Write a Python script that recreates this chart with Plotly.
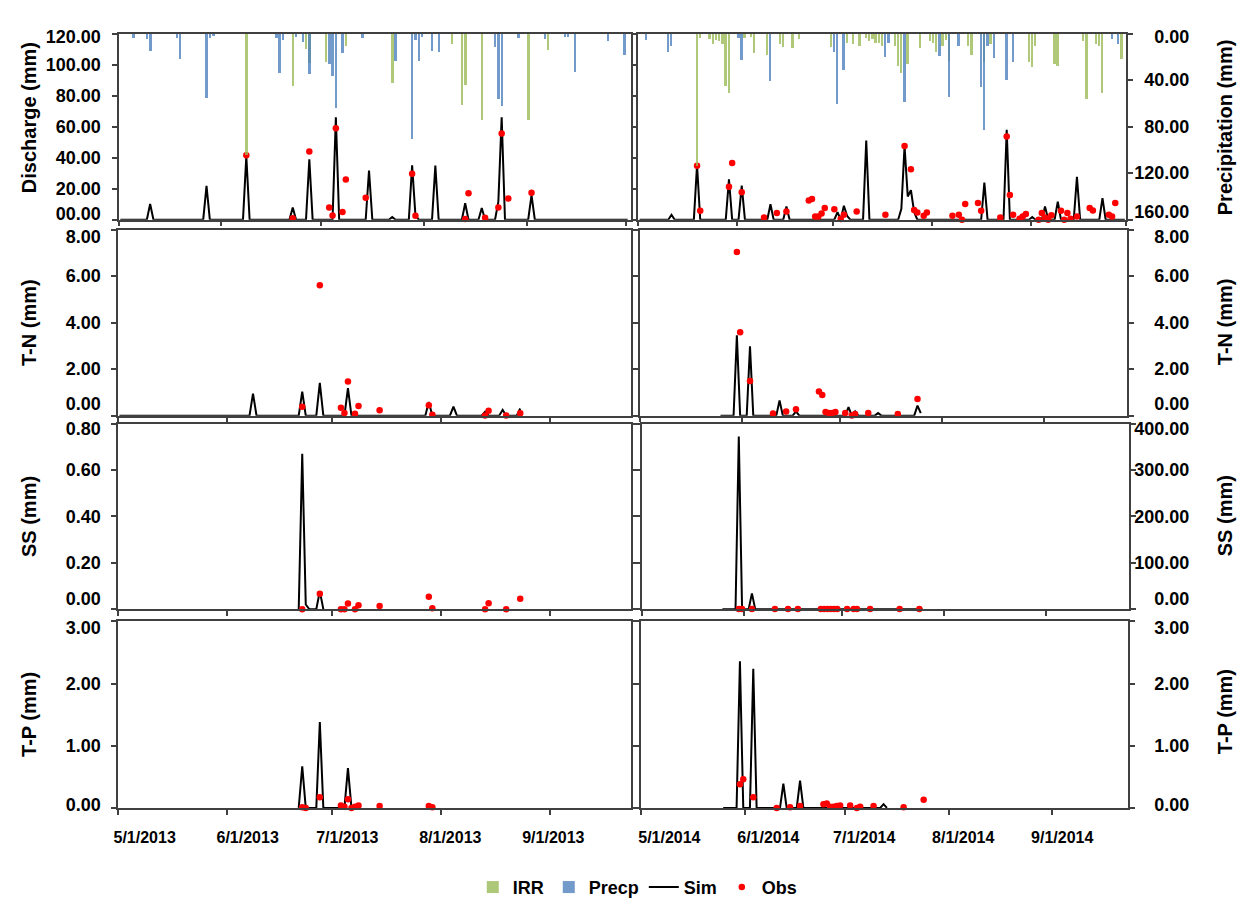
import pandas as pd
import plotly.graph_objects as go

W, H = 1259, 917

# ======================= DATA =======================
# ---------- 2013 season ----------
irr13_dates = ["2013-06-08", "2013-06-22", "2013-06-26", "2013-06-27", "2013-07-02", "2013-07-08",
               "2013-07-22", "2013-08-09", "2013-08-12", "2013-08-13", "2013-08-18", "2013-09-01",
               "2013-09-07"]
irr13_vals = [104, 45, 13, 25, 24, 10.7, 41.7, 8.7, 61, 43.7, 73.5, 74, 13.5]

prc13_dates = ["2013-05-05", "2013-05-09", "2013-05-10", "2013-05-18", "2013-05-19", "2013-05-27",
               "2013-05-28", "2013-05-29", "2013-06-17", "2013-06-18", "2013-06-19", "2013-06-23",
               "2013-06-25", "2013-06-27", "2013-07-03", "2013-07-04", "2013-07-05", "2013-07-07",
               "2013-07-13", "2013-07-23", "2013-07-28", "2013-07-29", "2013-07-30", "2013-07-31",
               "2013-08-03", "2013-08-05", "2013-08-22", "2013-08-23", "2013-08-24", "2013-08-29",
               "2013-09-06", "2013-09-12", "2013-09-13", "2013-09-15", "2013-09-25", "2013-09-30"]
prc13_vals = [3.7, 4.5, 14.4, 3.7, 21.4, 55, 3.7, 1.7, 3.7, 33.8, 5, 2.8, 6.5, 34.6, 25.6, 36, 64,
              16.3, 3.7, 23.4, 90, 5, 23.4, 2.8, 15, 15.8, 11.3, 55.8, 62, 3.7, 4.5, 2.3, 3, 32.4,
              6, 18.3]

q13_span = ("2013-05-01", "2013-10-01")
q13_sim_dates = ["2013-05-10", "2013-05-19", "2013-05-27", "2013-06-08", "2013-06-22", "2013-06-27",
                 "2013-07-05", "2013-07-15", "2013-07-22", "2013-07-28", "2013-07-29", "2013-08-04",
                 "2013-08-13", "2013-08-18", "2013-08-23", "2013-08-24", "2013-09-02"]
q13_sim_vals = [10.1, 0.4, 21.8, 41.0, 7.8, 39.0, 66.0, 31.7, 1.7, 35.0, 2.7, 34.9, 10.6, 7.6, 11.6,
                66.0, 15.8]
q13_obs_dates = ["2013-06-08", "2013-06-22", "2013-06-27", "2013-07-03", "2013-07-04", "2013-07-05",
                 "2013-07-07", "2013-07-08", "2013-07-14", "2013-07-28", "2013-07-29", "2013-08-13",
                 "2013-08-14", "2013-08-19", "2013-08-23", "2013-08-24", "2013-08-26", "2013-09-02"]
q13_obs_vals = [41.6, 1.0, 44.0, 7.8, 2.7, 59.0, 4.9, 26.0, 14.2, 29.6, 2.5, 0.4, 17.0, 1.3, 7.8,
                55.6, 13.7, 17.3]

tn13_span = ("2013-05-01", "2013-08-23")
tn13_sim_dates = ["2013-06-08", "2013-06-22", "2013-06-27", "2013-07-05", "2013-07-28", "2013-08-04",
                  "2013-08-13", "2013-08-18", "2013-08-23"]
tn13_sim_vals = [0.95, 1.03, 1.41, 1.18, 0.59, 0.39, 0.17, 0.25, 0.31]
tn13_obs_dates = ["2013-06-22", "2013-06-27", "2013-07-03", "2013-07-04", "2013-07-05", "2013-07-07",
                  "2013-07-08", "2013-07-14", "2013-07-28", "2013-07-29", "2013-08-13", "2013-08-14",
                  "2013-08-19", "2013-08-23"]
tn13_obs_vals = [0.38, 5.61, 0.34, 0.11, 1.47, 0.08, 0.42, 0.23, 0.45, 0.04, 0.01, 0.21, 0.01, 0.10]

ss13_span = ("2013-06-21", "2013-06-28")
ss13_sim_dates = ["2013-06-22", "2013-06-23", "2013-06-27"]
ss13_sim_vals = [0.67, 0.02, 0.077]
ss13_obs_dates = tn13_obs_dates
ss13_obs_vals = [0.0, 0.066, 0.0, 0.0, 0.024, 0.0, 0.017, 0.014, 0.054, 0.004, 0.0, 0.025, 0.0, 0.045]

tp13_span = ("2013-06-21", "2013-07-06")
tp13_sim_dates = ["2013-06-22", "2013-06-27", "2013-07-05"]
tp13_sim_vals = [0.67, 1.38, 0.64]
tp13_obs_dates = ["2013-06-22", "2013-06-23", "2013-06-27", "2013-07-03", "2013-07-04", "2013-07-05",
                  "2013-07-06", "2013-07-07", "2013-07-08", "2013-07-14", "2013-07-28", "2013-07-29"]
tp13_obs_vals = [0.01, 0.0, 0.17, 0.04, 0.02, 0.14, 0.0, 0.02, 0.04, 0.03, 0.03, 0.01]

# ---------- 2014 season ----------
irr14_dates = ["2014-05-19", "2014-05-20", "2014-05-23", "2014-05-24", "2014-05-25", "2014-05-26",
               "2014-05-27", "2014-05-28", "2014-05-29", "2014-06-03", "2014-06-05", "2014-06-06",
               "2014-06-10", "2014-06-14", "2014-06-15", "2014-06-18", "2014-06-20", "2014-06-30",
               "2014-07-05", "2014-07-07", "2014-07-09", "2014-07-11", "2014-07-12", "2014-07-13",
               "2014-07-14", "2014-07-15", "2014-07-16", "2014-07-20", "2014-07-21", "2014-07-22",
               "2014-07-24", "2014-07-28", "2014-07-31", "2014-08-01", "2014-08-02", "2014-08-04",
               "2014-08-05", "2014-08-06", "2014-08-12", "2014-08-13", "2014-08-17", "2014-08-19",
               "2014-08-31", "2014-09-01", "2014-09-02", "2014-09-08", "2014-09-09", "2014-09-17",
               "2014-09-18", "2014-09-21", "2014-09-22", "2014-09-23", "2014-09-29"]
irr14_vals = [113.8, 3.1, 4.5, 8.2, 5.4, 5.9, 8.2, 45, 50.7, 3.1, 2.5, 16.7, 17.8, 8.8, 11, 12.2,
              4.5, 11, 7.4, 8.8, 10.2, 3.1, 5.9, 4.5, 7.4, 7.4, 10.2, 10.2, 27.2, 33.7, 25.8, 12.2,
              5.9, 7.4, 15.8, 10.2, 5.4, 22.9, 10.2, 17.8, 24.3, 8.8, 24.3, 28, 10.2, 25.8, 27.2,
              5.9, 55.5, 8.8, 10.2, 50.7, 21.5]

prc14_dates = ["2014-05-03", "2014-05-10", "2014-05-11", "2014-06-01", "2014-06-02", "2014-06-11",
               "2014-07-01", "2014-07-02", "2014-07-04", "2014-07-17", "2014-07-18", "2014-07-23",
               "2014-08-03", "2014-08-06", "2014-08-09", "2014-08-16", "2014-08-17", "2014-08-18",
               "2014-08-20", "2014-08-24", "2014-08-26", "2014-09-26", "2014-09-28"]
prc14_vals = [5.4, 15.8, 10.2, 3.1, 22.4, 40.5, 15.8, 60.3, 30.6, 20.1, 7.4, 58.3, 18.7, 54.1,
              10.2, 45.6, 82.3, 10.2, 20.7, 39.3, 24.3, 4.5, 8.8]

q14_span = ("2014-05-01", "2014-09-30")
q14_sim_dates = ["2014-05-11", "2014-05-19", "2014-05-29", "2014-06-02", "2014-06-11", "2014-06-16",
                 "2014-07-02", "2014-07-04", "2014-07-05", "2014-07-11", "2014-07-22", "2014-07-23",
                 "2014-07-24", "2014-07-25", "2014-07-26", "2014-08-17", "2014-08-24", "2014-09-01",
                 "2014-09-05", "2014-09-09", "2014-09-15", "2014-09-23"]
q14_sim_vals = [3.2, 35.2, 26, 22, 10, 8.5, 4.9, 9, 2.5, 51, 7, 47.5, 15, 19, 5, 24, 58, 1.7, 8.5,
                11.7, 27.7, 13.9]
q14_obs_dates = ["2014-05-19", "2014-05-20", "2014-05-29", "2014-05-30", "2014-06-02", "2014-06-09",
                 "2014-06-13", "2014-06-16", "2014-06-23", "2014-06-24", "2014-06-25", "2014-06-26",
                 "2014-06-27", "2014-06-28", "2014-07-01", "2014-07-03", "2014-07-04", "2014-07-08",
                 "2014-07-17", "2014-07-23", "2014-07-25", "2014-07-26", "2014-07-27", "2014-07-29",
                 "2014-07-30", "2014-08-07", "2014-08-09", "2014-08-10", "2014-08-11", "2014-08-15",
                 "2014-08-16", "2014-08-22", "2014-08-24", "2014-08-25", "2014-08-26", "2014-08-28",
                 "2014-08-29", "2014-08-30", "2014-09-03", "2014-09-04", "2014-09-05", "2014-09-06",
                 "2014-09-07", "2014-09-10", "2014-09-11", "2014-09-12", "2014-09-13", "2014-09-15",
                 "2014-09-19", "2014-09-20", "2014-09-25", "2014-09-26", "2014-09-27"]
q14_obs_vals = [34.8, 5.8, 21.3, 36.5, 17.7, 1.5, 4.3, 5.3, 12.4, 13.4, 2.1, 2.1, 4.0, 7.5, 6.8,
                0.4, 3.2, 5.3, 3.2, 47.5, 32.6, 6.2, 4.7, 2.6, 4.7, 2.6, 3.2, 0.0, 10.2, 10.7, 5.8,
                1.5, 53.7, 16.0, 3.2, 0.6, 2.1, 3.6, 0.0, 4.3, 1.5, 0.0, 2.8, 5.8, 0.0, 4.3, 0.6,
                2.1, 7.5, 6.0, 3.2, 2.1, 10.7]

wq14_obs_dates = ["2014-05-30", "2014-05-31", "2014-06-03", "2014-06-10", "2014-06-14", "2014-06-17",
                  "2014-06-24", "2014-06-25", "2014-06-26", "2014-06-27", "2014-06-28", "2014-06-29",
                  "2014-07-02", "2014-07-04", "2014-07-05", "2014-07-09", "2014-07-18", "2014-07-24"]

tn14_span = ("2014-05-25", "2014-07-25")
tn14_sim_dates = ["2014-05-30", "2014-06-03", "2014-06-12", "2014-06-17", "2014-07-03", "2014-07-05",
                  "2014-07-12", "2014-07-24", "2014-07-25"]
tn14_sim_vals = [3.45, 2.98, 0.65, 0.18, 0.37, 0.18, 0.11, 0.43, 0.11]
tn14_obs_vals = [7.04, 3.59, 1.49, 0.09, 0.18, 0.28, 1.04, 0.89, 0.16, 0.11, 0.11, 0.16, 0.11,
                 0.01, 0.07, 0.11, 0.07, 0.72]

ss14_span = ("2014-05-25", "2014-07-25")
ss14_sim_dates = ["2014-05-30", "2014-06-03"]
ss14_sim_vals = [372, 34]
ss14_obs_vals = [0.5] * 18

tp14_span = ("2014-05-25", "2014-07-13")
tp14_sim_dates = ["2014-05-30", "2014-06-03", "2014-06-12", "2014-06-17", "2014-07-12"]
tp14_sim_vals = [2.36, 2.24, 0.39, 0.44, 0.06]
tp14_obs_vals = [0.38, 0.46, 0.17, 0.0, 0.01, 0.03, 0.06, 0.07, 0.02, 0.02, 0.03, 0.04, 0.04, 0.0,
                 0.02, 0.03, 0.01, 0.13]

# tick labels
date_ticks13 = ["2013-05-01", "2013-06-01", "2013-07-01", "2013-08-01", "2013-09-01"]
date_labels13 = ["5/1/2013", "6/1/2013", "7/1/2013", "8/1/2013", "9/1/2013"]
date_ticks14 = ["2014-05-01", "2014-06-01", "2014-07-01", "2014-08-01", "2014-09-01"]
date_labels14 = ["5/1/2014", "6/1/2014", "7/1/2014", "8/1/2014", "9/1/2014"]

q_ticks = [0, 20, 40, 60, 80, 100, 120]
q_labels = ["00.00", "20.00", "40.00", "60.00", "80.00", "100.00", "120.00"]
p_ticks = [0, 40, 80, 120, 160]
p_labels = ["0.00", "40.00", "80.00", "120.00", "160.00"]
tn_ticks = [0, 2, 4, 6, 8]
tn_labels = ["0.00", "2.00", "4.00", "6.00", "8.00"]
ss13_ticks = [0, 0.2, 0.4, 0.6, 0.8]
ss13_labels = ["0.00", "0.20", "0.40", "0.60", "0.80"]
ss14_ticks = [0, 100, 200, 300, 400]
ss14_labels = ["0.00", "100.00", "200.00", "300.00", "400.00"]
tp_ticks = [0, 1, 2, 3]
tp_labels = ["0.00", "1.00", "2.00", "3.00"]

# ======================= HELPERS =======================
HALF_DAY = pd.Timedelta(hours=12)


def noon(dates):
    return [pd.Timestamp(d) + HALF_DAY for d in dates]


def daily(span, dates, vals):
    idx = pd.date_range(span[0], span[1], freq="D")
    s = pd.Series(0.0, index=idx)
    for d, v in zip(dates, vals):
        s[pd.Timestamp(d)] = v
    return [t + HALF_DAY for t in s.index], s.values.tolist()


GREEN = "#9BBB59"
BLUE = "#4F81BD"
RED = "#FF0000"
AXC = "#404040"
LW = 1.5
FONT = "Liberation Sans, Arial, sans-serif"
BAR_W = 0.6 * 86400000

fig = go.Figure()


def bars(dates, vals, color, name, xa, ya, legend=False):
    fig.add_trace(go.Bar(x=noon(dates), y=vals, width=BAR_W, name=name, xaxis=xa, yaxis=ya,
                         marker=dict(color=color, line=dict(width=0)), opacity=0.8,
                         showlegend=legend, legendgroup=name, hoverinfo="skip"))


def sim(span, dates, vals, xa, ya, legend=False):
    x, y = daily(span, dates, vals)
    fig.add_trace(go.Scatter(x=x, y=y, mode="lines", name="Sim", xaxis=xa, yaxis=ya,
                             line=dict(color="black", width=2), cliponaxis=False,
                             showlegend=legend, legendgroup="Sim"))


def obs(dates, vals, xa, ya, legend=False):
    fig.add_trace(go.Scatter(x=noon(dates), y=vals, mode="markers", name="Obs", xaxis=xa, yaxis=ya,
                             marker=dict(color=RED, size=6.5, line=dict(width=0)), cliponaxis=False,
                             showlegend=legend, legendgroup="Obs"))


def dummy(xa, ya):
    fig.add_trace(go.Scatter(x=[None], y=[None], xaxis=xa, yaxis=ya, showlegend=False,
                             hoverinfo="skip", mode="markers"))


# ======================= TRACES =======================
# row 1 (discharge on base axis, rain/irrigation on overlay axis)
bars(irr13_dates, irr13_vals, GREEN, "IRR", "x", "y9", True)
bars(prc13_dates, prc13_vals, BLUE, "Precp", "x", "y9", True)
sim(q13_span, q13_sim_dates, q13_sim_vals, "x", "y", True)
obs(q13_obs_dates, q13_obs_vals, "x", "y", True)

bars(irr14_dates, irr14_vals, GREEN, "IRR", "x2", "y10")
bars(prc14_dates, prc14_vals, BLUE, "Precp", "x2", "y10")
sim(q14_span, q14_sim_dates, q14_sim_vals, "x2", "y2")
obs(q14_obs_dates, q14_obs_vals, "x2", "y2")

# row 2 T-N
sim(tn13_span, tn13_sim_dates, tn13_sim_vals, "x3", "y3")
obs(tn13_obs_dates, tn13_obs_vals, "x3", "y3")
sim(tn14_span, tn14_sim_dates, tn14_sim_vals, "x4", "y4")
obs(wq14_obs_dates, tn14_obs_vals, "x4", "y4")

# row 3 SS
sim(ss13_span, ss13_sim_dates, ss13_sim_vals, "x5", "y5")
obs(ss13_obs_dates, ss13_obs_vals, "x5", "y5")
sim(ss14_span, ss14_sim_dates, ss14_sim_vals, "x6", "y6")
obs(wq14_obs_dates, ss14_obs_vals, "x6", "y6")

# row 4 T-P
sim(tp13_span, tp13_sim_dates, tp13_sim_vals, "x7", "y7")
obs(tp13_obs_dates, tp13_obs_vals, "x7", "y7")
sim(tp14_span, tp14_sim_dates, tp14_sim_vals, "x8", "y8")
obs(wq14_obs_dates, tp14_obs_vals, "x8", "y8")

# label-only axes need a (empty) trace to exist
for xa, ya in [("x", "y11"), ("x2", "y12"), ("x3", "y13"), ("x4", "y14"), ("x5", "y15"),
               ("x6", "y16"), ("x7", "y17"), ("x8", "y18"), ("x9", "y7"), ("x10", "y8")]:
    dummy(xa, ya)

# ======================= LAYOUT =======================
def dx(a, b):
    return [a / W, b / W]


def dy(top, bottom):
    return [1 - bottom / H, 1 - top / H]


ROWS = [(27, 216), (226, 415), (423, 611.5), (624, 813.3)]
LEFT = [(115, 629), (114, 629), (114, 629), (114, 629)]
RIGHT = [(636, 1126), (638, 1127), (640, 1129), (639.4, 1128)]
XR_L = [["2013-05-01", "2013-10-02 12:00"], ["2013-05-01", "2013-09-24"],
        ["2013-05-01", "2013-09-24"], ["2013-05-01", "2013-09-24"]]
XR_R = [["2014-05-01", "2014-10-01"], ["2014-05-01", "2014-09-26 10:00"],
        ["2014-05-01", "2014-09-26 12:00"], ["2014-05-01", "2014-09-23 19:00"]]

TF_Y = dict(family=FONT, size=18, color="black", weight="bold")
TF_X = dict(family=FONT, size=16, color="black", weight="bold")


def base_x(dom, anchor, rng):
    return dict(domain=dom, anchor=anchor, type="date", range=rng, tick0=rng[0][:10], dtick="M1",
                ticks="outside", ticklen=5, tickwidth=LW, tickcolor=AXC, showticklabels=False,
                showline=True, linewidth=LW, linecolor=AXC, mirror=True, showgrid=False,
                zeroline=False)


def base_y(dom, anchor, rng, tv, side="left", ticks="outside", mirror="ticks", showline=True):
    return dict(domain=dom, anchor=anchor, range=rng, tickvals=tv, side=side, ticks=ticks,
                ticklen=5, tickwidth=LW, tickcolor=AXC, showticklabels=False, showline=showline,
                linewidth=LW, linecolor=AXC, mirror=mirror, showgrid=False, zeroline=False)


def nudge(tv, rng, h, top_px, bottom_px):
    # move the end labels inward (pixels), as in the original figure
    per_px = (rng[1] - rng[0]) / h
    out = list(tv)
    if rng[0] in tv:
        i = tv.index(rng[0])
        out[i] = tv[i] + bottom_px * per_px
    if rng[1] in tv:
        i = tv.index(rng[1])
        out[i] = tv[i] - top_px * per_px
    return out


def label_y(over, pos, rng, tv, tt, h, top_px, bottom_px):
    return dict(overlaying=over, anchor="free", position=pos, side="left", range=rng,
                tickvals=nudge(tv, rng, h, top_px, bottom_px), ticktext=tt, ticks="",
                showline=False, showgrid=False, zeroline=False, tickfont=TF_Y)


layout = dict(width=W, height=H, margin=dict(l=0, r=0, t=0, b=0), paper_bgcolor="white",
              plot_bgcolor="white", barmode="overlay", bargap=0, showlegend=True,
              legend=dict(orientation="h", x=0.505, xanchor="center", y=1 - 894 / H,
                          yanchor="middle", font=dict(family=FONT, size=18, color="black",
                                                      weight="bold"),
                          bgcolor="rgba(0,0,0,0)", itemwidth=30),
              font=dict(family=FONT))

names_x = ["xaxis", "xaxis2", "xaxis3", "xaxis4", "xaxis5", "xaxis6", "xaxis7", "xaxis8"]
anc_y = ["y", "y2", "y3", "y4", "y5", "y6", "y7", "y8"]

for r in range(4):
    li, ri = 2 * r, 2 * r + 1
    layout[names_x[li]] = base_x(dx(*LEFT[r]), anc_y[li], XR_L[r])
    layout[names_x[ri]] = base_x(dx(*RIGHT[r]), anc_y[ri], XR_R[r])

LPOS = 97 / W
RPOS = 1189 / W
hr = [b - t for t, b in ROWS]

# row 1
layout["yaxis"] = base_y(dy(*ROWS[0]), "x", [0, 120], q_ticks)
layout["yaxis9"] = dict(overlaying="y", anchor="x", side="right", range=[160, 0], showline=False,
                        ticks="", showticklabels=False, showgrid=False, zeroline=False)
layout["yaxis2"] = base_y(dy(*ROWS[0]), "x2", [0, 120], q_ticks, ticks="", mirror=False)
layout["yaxis10"] = dict(overlaying="y2", anchor="x2", side="right", range=[160, 0],
                         tickvals=p_ticks, ticks="outside", ticklen=5, tickwidth=LW, tickcolor=AXC,
                         showticklabels=False, showline=True, linewidth=LW, linecolor=AXC,
                         showgrid=False, zeroline=False)
layout["yaxis11"] = label_y("y", LPOS, [0, 120], q_ticks, q_labels, hr[0], 3, 6)
layout["yaxis12"] = label_y("y2", RPOS, [0, 160], p_ticks, p_labels, hr[0], 8, 3)
layout["yaxis12"]["range"] = [160, 0]

# rows 2-4
layout["yaxis3"] = base_y(dy(*ROWS[1]), "x3", [0, 8], tn_ticks)
layout["yaxis4"] = base_y(dy(*ROWS[1]), "x4", [0, 8], tn_ticks, side="right")
layout["yaxis5"] = base_y(dy(*ROWS[2]), "x5", [0, 0.8], ss13_ticks)
layout["yaxis6"] = base_y(dy(*ROWS[2]), "x6", [0, 400], ss14_ticks, side="right")
layout["yaxis7"] = base_y(dy(*ROWS[3]), "x7", [0, 3], tp_ticks)
layout["yaxis8"] = base_y(dy(*ROWS[3]), "x8", [0, 3], tp_ticks, side="right")

layout["yaxis13"] = label_y("y3", LPOS, [0, 8], tn_ticks, tn_labels, hr[1], 7, 12)
layout["yaxis14"] = label_y("y4", RPOS, [0, 8], tn_ticks, tn_labels, hr[1], 7, 12)
layout["yaxis15"] = label_y("y5", LPOS, [0, 0.8], ss13_ticks, ss13_labels, hr[2], 5, 10.5)
layout["yaxis16"] = label_y("y6", RPOS, [0, 400], ss14_ticks, ss14_labels, hr[2], 5, 10.5)
layout["yaxis17"] = label_y("y7", LPOS, [0, 3], tp_ticks, tp_labels, hr[3], 6, 3)
layout["yaxis18"] = label_y("y8", RPOS, [0, 3], tp_ticks, tp_labels, hr[3], 6, 3)

# date labels under the bottom row
layout["xaxis9"] = dict(overlaying="x7", anchor="y7", side="bottom", type="date",
                        range=["2013-05-01", "2013-10-02 12:00"], tickvals=date_ticks13,
                        ticktext=date_labels13, ticks="", showline=False, showgrid=False,
                        zeroline=False, tickfont=TF_X, ticklabelshift=27, ticklabelstandoff=18)
layout["xaxis10"] = dict(overlaying="x8", anchor="y8", side="bottom", type="date",
                         range=["2014-05-01", "2014-09-30 12:00"], tickvals=date_ticks14,
                         ticktext=date_labels14, ticks="", showline=False, showgrid=False,
                         zeroline=False, tickfont=TF_X, ticklabelshift=28, ticklabelstandoff=18)

# axis titles
titles = [("Discharge (mm)", 25, 112), ("T-N (mm)", 25, 320), ("SS (mm)", 25, 517),
          ("T-P (mm)", 25, 718), ("Precipitation (mm)", 1225, 122), ("T-N (mm)", 1225, 320),
          ("SS (mm)", 1225, 517), ("T-P (mm)", 1225, 716)]
layout["annotations"] = [dict(text=t, x=x / W, y=1 - y / H, xref="paper", yref="paper",
                              textangle=-90, showarrow=False, xanchor="center", yanchor="middle",
                              font=dict(family=FONT, size=20, color="black", weight="bold"))
                         for t, x, y in titles]

fig.update_layout(layout)
fig.write_html("out.html")
